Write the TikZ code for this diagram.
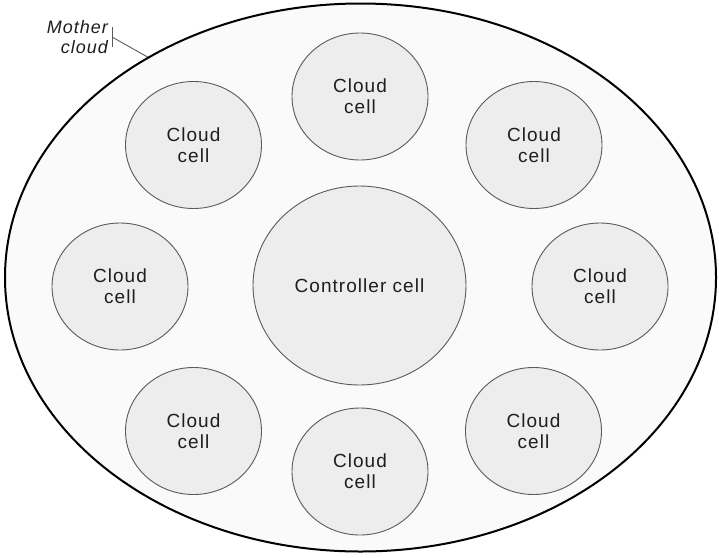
\documentclass[tikz,border=0pt]{standalone}
\usepackage{fontspec}
\usetikzlibrary{shapes.geometric}
\newfontfamily\diafont[LetterSpace=5.5]{Liberation Sans}
\definecolor{cellfill}{HTML}{EDEDED}
\definecolor{cellline}{HTML}{5A5A5A}
\definecolor{motherfill}{HTML}{FAFAFA}
\definecolor{txt}{HTML}{1E1E1E}
\begin{document}
\begin{tikzpicture}[x=1pt,y=-1pt,
  cellnode/.style={ellipse, draw=cellline, line width=0.9pt, fill=cellfill,
    inner sep=0pt, minimum width=136pt, minimum height=127pt, align=center,
    text=txt, font=\diafont\fontsize{19}{21}\selectfont},
  mothernode/.style={ellipse, draw=black, line width=2pt, fill=motherfill,
    inner sep=0pt, minimum width=711pt, minimum height=548pt},
  labelnode/.style={align=right, text=txt, inner sep=0pt,
    font=\diafont\itshape\fontsize{18}{20}\selectfont},
  leader/.style={draw=cellline, line width=0.9pt}]
\useasboundingbox (0,0) rectangle (719,557);
\node[mothernode] (mother) at (360.5,277.5) {};
\node[cellnode, minimum width=213pt, minimum height=199pt] (ctrl) at (359.5,285.5) {Controller cell};
\node[cellnode] (top) at (360,96.5) {Cloud\\cell};
\node[cellnode] (tl) at (193.5,145) {Cloud\\cell};
\node[cellnode] (tr) at (534,145) {Cloud\\cell};
\node[cellnode] (ml) at (120,286.5) {Cloud\\cell};
\node[cellnode] (mr) at (600,286.5) {Cloud\\cell};
\node[cellnode] (bl) at (193.5,431) {Cloud\\cell};
\node[cellnode] (br) at (533.5,431) {Cloud\\cell};
\node[cellnode] (bot) at (360,471.5) {Cloud\\cell};
\node[labelnode, anchor=east] (lbl) at (108,37) {Mother\\cloud};
\coordinate (tickA) at (112,27);
\coordinate (tickB) at (112,47);
\coordinate (tickM) at (112,37);
\draw[leader] (tickA) -- (tickB);
\draw[leader] (tickM) -- (mother.134);
\end{tikzpicture}
\end{document}
